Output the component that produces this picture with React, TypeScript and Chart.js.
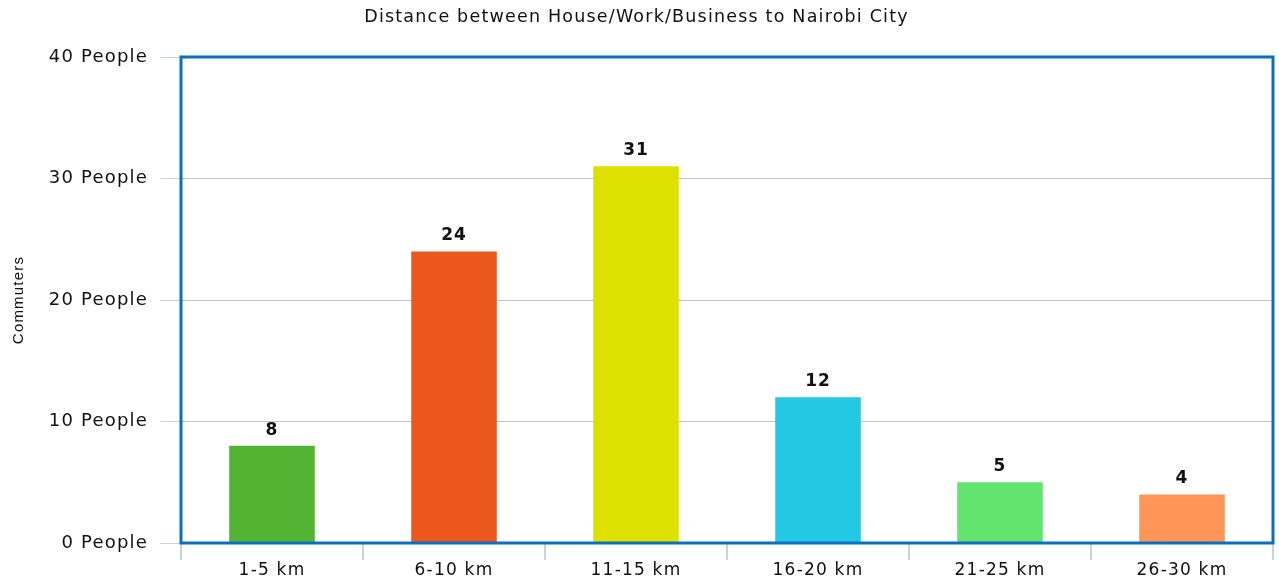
import React, { useEffect, useRef } from "react";
import { Chart, registerables } from "chart.js";

Chart.register(...registerables);

const categories = ["1-5 km", "6-10 km", "11-15 km", "16-20 km", "21-25 km", "26-30 km"];
const commuters = [8, 24, 31, 12, 5, 4];
const barColors = ["#52b332", "#ec571e", "#dee000", "#23c9e3", "#63e46f", "#ff9658"];
const yTickValues = [0, 10, 20, 30, 40];
const chartTitle = "Distance between House/Work/Business to Nairobi City";
const yAxisTitle = "Commuters";

const FONT = "'DejaVu Sans', sans-serif";
const SPACING = "1.2px";

const spacingPlugin = {
  id: "letterSpacing",
  beforeUpdate(chart: any) {
    chart.ctx.letterSpacing = SPACING;
  },
  beforeDraw(chart: any) {
    chart.ctx.letterSpacing = SPACING;
  },
};

const borderPlugin = {
  id: "areaBorder",
  afterDatasetsDraw(chart: any) {
    const { ctx, chartArea } = chart;
    ctx.save();
    ctx.strokeStyle = "#0a6fc2";
    ctx.lineWidth = 3;
    ctx.strokeRect(chartArea.left, chartArea.top, chartArea.right - chartArea.left, chartArea.bottom - chartArea.top);
    ctx.restore();
  },
};

const labelPlugin = {
  id: "valueLabels",
  afterDatasetsDraw(chart: any) {
    const { ctx } = chart;
    const meta = chart.getDatasetMeta(0);
    ctx.save();
    ctx.font = `bold 17px ${FONT}`;
    ctx.letterSpacing = "1px";
    ctx.fillStyle = "#111";
    ctx.textAlign = "center";
    ctx.textBaseline = "bottom";
    meta.data.forEach((bar: any, i: number) => {
      ctx.fillText(String(chart.data.datasets[0].data[i]), bar.x, bar.y - 7);
    });
    ctx.restore();
  },
};

export default function App() {
  const ref = useRef<HTMLCanvasElement>(null);
  useEffect(() => {
    document.body.style.margin = "0";
    const chart = new Chart(ref.current!, {
      type: "bar",
      data: {
        labels: categories,
        datasets: [
          {
            data: commuters,
            backgroundColor: barColors,
            barPercentage: 0.47,
            categoryPercentage: 1,
          },
        ],
      },
      options: {
        animation: false,
        responsive: false,
        layout: { padding: { left: 0, right: 6, top: 0, bottom: 0 } },
        plugins: {
          legend: { display: false },
          tooltip: { enabled: false },
          title: {
            display: true,
            text: chartTitle,
            color: "#111",
            font: { family: FONT, size: 17.5, weight: "normal", lineHeight: 1.2 },
            padding: { top: 7, bottom: 29 },
          },
        },
        scales: {
          x: {
            grid: {
              offset: true,
              drawOnChartArea: false,
              tickLength: 17,
              tickColor: "#c5d3e3",
              lineWidth: 2,
            },
            border: { display: false },
            ticks: {
              color: "#111",
              font: { family: FONT, size: 17 },
              padding: 0,
            },
            afterFit(scale: any) {
              scale.height = 38;
            },
          },
          y: {
            min: 0,
            max: 40,
            afterBuildTicks(scale: any) {
              scale.ticks = yTickValues.map((v) => ({ value: v }));
            },
            grid: {
              color: "#c4c4c4",
              tickColor: "#c5d3e3",
              tickLength: 21,
              lineWidth: 1,
            },
            border: { display: false },
            ticks: {
              color: "#111",
              font: { family: FONT, size: 18 },
              padding: 12,
              callback: (v: any) => `${v} People`,
            },
            title: {
              display: true,
              text: yAxisTitle,
              color: "#111",
              font: { family: "'Liberation Sans', Arial, sans-serif", size: 15 },
              padding: { top: 10, bottom: 0 },
            },
            afterFit(scale: any) {
              scale.width = 181;
            },
          },
        },
      },
      plugins: [spacingPlugin, borderPlugin, labelPlugin],
    });
    return () => chart.destroy();
  }, []);
  return <canvas ref={ref} width={1279} height={581} style={{ display: "block" }} />;
}
